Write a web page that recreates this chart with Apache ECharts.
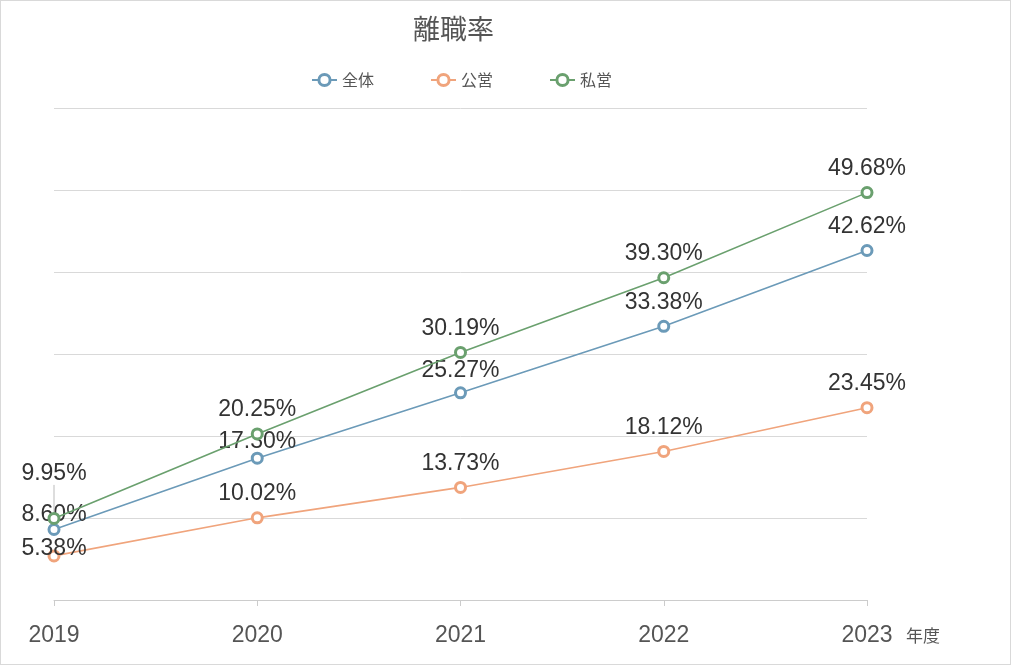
<!DOCTYPE html>
<html>
<head>
<meta charset="utf-8">
<style>
html,body{margin:0;padding:0;background:#fff;}
#c{width:1009px;height:663px;border:1px solid #d9d9d9;}
</style>
<script src="https://cdn.jsdelivr.net/npm/echarts@6/dist/echarts.min.js"></script>
</head>
<body>
<div id="c"></div>
<script>
const categories = ['2019', '2020', '2021', '2022', '2023'];
const seriesNames = ['全体', '公営', '私営'];
const totalValues = [8.60, 17.30, 25.27, 33.38, 42.62];
const publicValues = [5.38, 10.02, 13.73, 18.12, 23.45];
const privateValues = [9.95, 20.25, 30.19, 39.30, 49.68];

const colors = ['#6b9ab8', '#f0a47c', '#6aa06e'];
// label vertical nudges (style only)
const nudges = [
  [9, 8, 2, 0, 0],
  [17, 0, 0, 0, 0],
  [-21, 0, 0, 0, 0]
];

const chart = echarts.init(document.getElementById('c'));
const allValues = [totalValues, publicValues, privateValues];
const series = allValues.map((vals, si) => ({
  name: seriesNames[si],
  type: 'line',
  data: vals.map((v, di) => {
    const item = { value: v };
    if (nudges[si][di] < -10) {
      item.labelLine = { show: true, lineStyle: { color: '#bbb', width: 1 } };
    }
    return item;
  }),
  symbol: 'circle',
  symbolSize: 10,
  color: colors[si],
  lineStyle: { width: 1.6, color: colors[si] },
  itemStyle: { color: '#fff', borderColor: colors[si], borderWidth: 3 },
  label: {
    show: true,
    position: 'top',
    distance: 6,
    fontSize: 23,
    color: '#333',
    fontFamily: 'Liberation Sans, Arial, sans-serif',
    formatter: p => p.value.toFixed(2) + '%'
  },
  labelLine: { show: false },
  labelLayout: p => ({ dy: nudges[p.seriesIndex][p.dataIndex] }),
  z: 3 + si
}));

chart.setOption({
  backgroundColor: '#fff',
  animation: false,
  title: {
    text: '離職率',
    left: 407,
    top: 9,
    textStyle: { fontSize: 27, fontWeight: 'normal', color: '#555', fontFamily: 'Noto Sans CJK JP' }
  },
  legend: {
    data: seriesNames,
    left: 305,
    top: 66,
    itemGap: 56,
    itemWidth: 25,
    itemHeight: 14,
    itemStyle: { borderWidth: 3 },
    textStyle: { fontSize: 16, color: '#555', fontFamily: 'Noto Sans CJK JP' }
  },
  grid: { left: 53, right: 143, top: 107, bottom: 64, containLabel: false },
  xAxis: {
    type: 'category',
    data: categories,
    boundaryGap: false,
    name: '年度',
    nameLocation: 'end',
    nameGap: 39,
    nameTextStyle: { fontSize: 17, color: '#555', verticalAlign: 'top', padding: [27, 0, 0, 0], fontFamily: 'Noto Sans CJK JP' },
    axisLine: { lineStyle: { color: '#ccc' } },
    axisTick: { show: true, alignWithLabel: true, length: 6, lineStyle: { color: '#ccc' } },
    axisLabel: { fontSize: 23, color: '#555', margin: 24, fontFamily: 'Liberation Sans, Arial, sans-serif' }
  },
  yAxis: {
    type: 'value',
    min: 0,
    max: 60,
    interval: 10,
    axisLabel: { show: false },
    axisLine: { show: false },
    axisTick: { show: false },
    splitLine: { lineStyle: { color: '#d9d9d9' } }
  },
  series: series
});
</script>
</body>
</html>
